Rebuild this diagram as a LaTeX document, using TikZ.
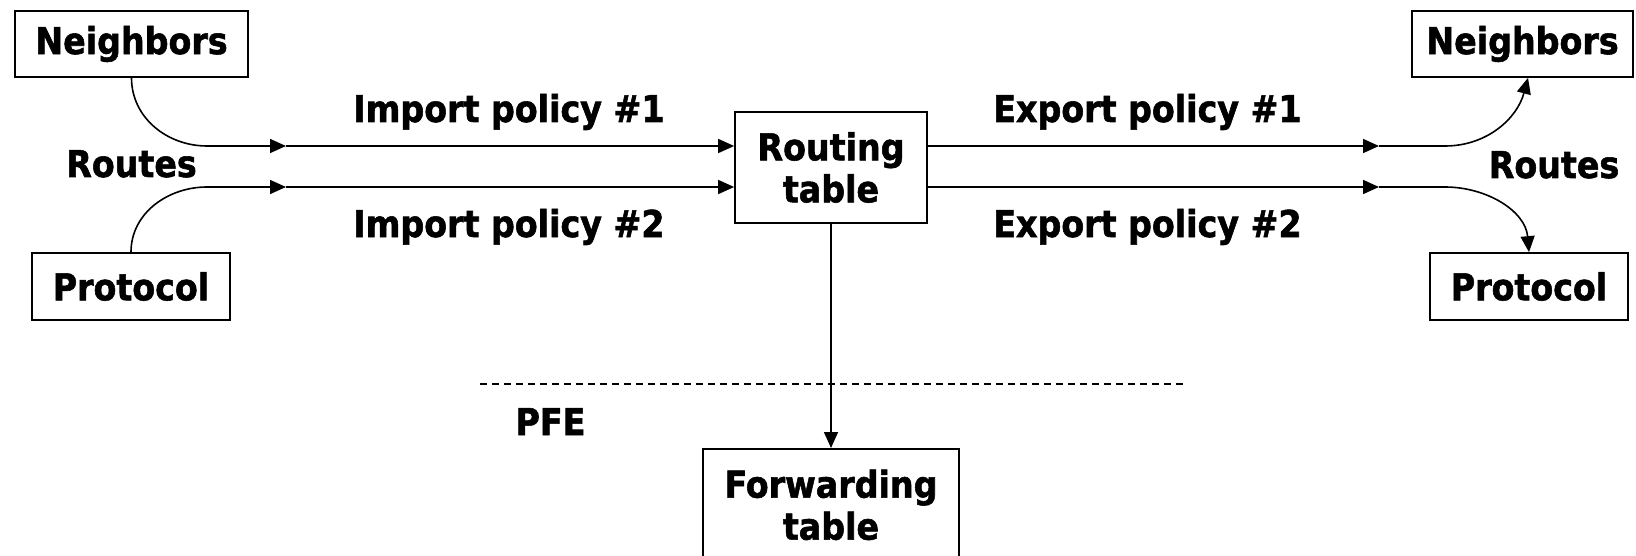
\documentclass[tikz,border=0pt]{standalone}
\usepackage{fontspec}
\usetikzlibrary{arrows.meta}
\newfontfamily\lblfont{DejaVu Sans Condensed Bold}[FakeBold=1.5]
\begin{document}
\begin{tikzpicture}[x=1pt,y=-1pt,
  every node/.style={font=\lblfont\fontsize{37}{42}\selectfont, inner sep=0pt},
  box/.style={draw, line width=1.7pt, align=center},
  link/.style={line width=1.6pt},
  arr/.style={link, -{Triangle[length=16pt,width=14pt]}},
  label/.style={anchor=base}]
\useasboundingbox (0,0) rectangle (1636,556);

% sources and sinks
\node[box, minimum width=233, minimum height=66] (nbL) at (131.5,44) {Neighbors};
\node[box, minimum width=198, minimum height=67] (prL) at (131,286.5) {Protocol};
\node[box, minimum width=221, minimum height=66] (nbR) at (1522.5,44) {Neighbors};
\node[box, minimum width=198, minimum height=67] (prR) at (1529,286.5) {Protocol};

% tables
\node[box, minimum width=192, minimum height=111] (rt) at (831,167.5) {Routing\\table};
\node[box, minimum width=256, minimum height=112, anchor=north] (ft) at (831,448) {Forwarding\\table};

% texts
\node[label] (routesL) at (131.5,177) {Routes};
\node[label] (routesR) at (1554,178) {Routes};
\node[label] (imp1) at (509,122) {Import policy \#1};
\node[label] (imp2) at (509,237) {Import policy \#2};
\node[label] (exp1) at (1147.5,122) {Export policy \#1};
\node[label] (exp2) at (1147.5,237) {Export policy \#2};
\node[label] (pfe) at (550.5,435) {PFE};

% routing engine / PFE boundary
\coordinate (dashL) at (480,384);
\coordinate (dashR) at (1187,384);
\draw[line width=1.2pt, dash pattern=on 7pt off 5pt] (dashL) -- (dashR);

% inbound routes
\coordinate (lb1) at (207,146);
\coordinate (lb2) at (207,187);
\coordinate (la1) at (286,146);
\coordinate (la2) at (286,187);
\draw[arr] (nbL.south) to[out=-90,in=180] (lb1) -- (la1);
\draw[arr] (prL.north) to[out=90,in=180] (lb2) -- (la2);
\draw[arr] (la1) -- (rt.west |- la1);
\draw[arr] (la2) -- (rt.west |- la2);

% outbound routes
\coordinate (ra1) at (1379,146);
\coordinate (ra2) at (1379,187);
\coordinate (rb1) at (1445,146);
\coordinate (rb2) at (1445,187);
\draw[arr] (rt.east |- ra1) -- (ra1);
\draw[arr] (rt.east |- ra2) -- (ra2);
\draw[arr] (ra1) -- (rb1) to[out=0,in=-105] ([xshift=5.5pt]nbR.south);
\draw[arr] (ra2) -- (rb2) to[out=0,in=95] (prR.north);

% download to forwarding table
\draw[arr] (rt.south) -- (ft.north);
\end{tikzpicture}
\end{document}
